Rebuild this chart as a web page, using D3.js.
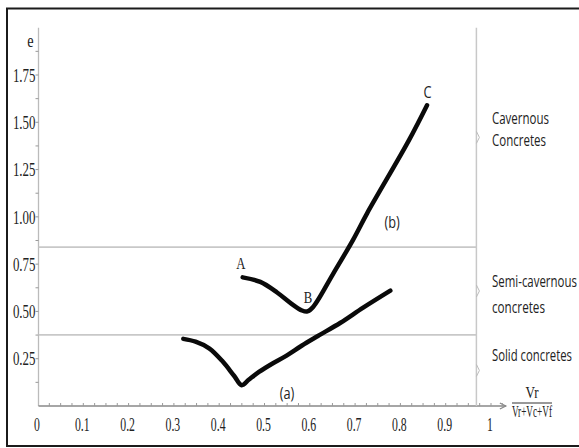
<!DOCTYPE html>
<html><head><meta charset="utf-8">
<script src="https://cdn.jsdelivr.net/npm/d3@7"></script>
<style>
html,body{margin:0;padding:0;background:#fff;}
svg{display:block;}
.serif{font-family:"Liberation Serif","DejaVu Serif",serif;fill:#222;}
.sans{font-family:"Open Sans","Liberation Sans",sans-serif;fill:#222;}
</style></head>
<body>
<svg id="chart" width="579" height="448"></svg>
<script>
// ---- data ----
const xTickValues = [0,0.1,0.2,0.3,0.4,0.5,0.6,0.7,0.8,0.9,1];
const xTickLabels = ["0","0.1","0.2","0.3","0.4","0.5","0.6","0.7","0.8","0.9","1"];
const yTickValues = [0.25,0.5,0.75,1.0,1.25,1.5,1.75];
const yTickLabels = ["0.25","0.50","0.75","1.00","1.25","1.50","1.75"];
// curve (a): lower curve
const curveAx = [0.323,0.35,0.38,0.41,0.435,0.452,0.468,0.49,0.52,0.55,0.585,0.62,0.67,0.72,0.78];
const curveAy = [0.355,0.34,0.305,0.235,0.16,0.11,0.14,0.18,0.225,0.265,0.32,0.37,0.44,0.52,0.61];
// curve (b): A -> B -> C
const curveBx = [0.454,0.493,0.53,0.562,0.585,0.597,0.61,0.654,0.698,0.729,0.82,0.861];
const curveBy = [0.68,0.656,0.60,0.54,0.505,0.50,0.525,0.70,0.88,1.02,1.40,1.59];
// zone boundaries (e) and labels
const zoneBounds = [0.376, 0.84];
const zoneLabels = [["Cavernous","Concretes"],["Semi-cavernous","concretes"],["Solid concretes"]];
const pointLabels = ["A","B","C"];
const pointLabelX = [0.45,0.598,0.862];
const pointLabelY = [0.757,0.577,1.66];
const curveLabels = ["(a)","(b)"];
const curveLabelX = [0.552,0.784];
const curveLabelY = [0.07,0.97];
const yAxisTitle = "e";
const xAxisNum = "Vr", xAxisDen = "Vr+Vc+Vf";
const zoneLineX = 0.97;

// ---- drawing ----
const svg = d3.select("#chart");
const x = d3.scaleLinear().domain([0,1]).range([37,490]);
const y = d3.scaleLinear().domain([0,1.75]).range([406,75]);

// text drawn at an anchor point, condensed horizontally by factor k (or to width w)
function ctext(parent, tx, ty, str, opt){
  const g = parent.append("g");
  const t = g.append("text").attr("class",opt.cls).attr("x",0).attr("y",0)
    .attr("dy",opt.dy||null).attr("text-anchor",opt.anchor||"start")
    .attr("font-size",opt.size).text(str);
  let k = opt.k||1;
  if (opt.w){ k = opt.w / t.node().getComputedTextLength(); }
  g.attr("transform",`translate(${tx},${ty}) scale(${k},1)`);
  return g;
}

// frame
svg.append("rect").attr("x",7).attr("y",8.5).attr("width",620).attr("height",437.5)
  .attr("fill","none").attr("stroke","#1b1b1b").attr("stroke-width",2);

const yAxisX = x(0)+1.5;
// y axis
svg.append("line").attr("x1",yAxisX).attr("x2",yAxisX).attr("y1",y(0)).attr("y2",y(2.0))
  .attr("stroke","#bbb").attr("stroke-width",1.3);
const yMinor = d3.range(1,16).map(i=>i*0.125);
svg.append("g").selectAll("line").data(yMinor).join("line")
  .attr("x1",yAxisX-3).attr("x2",yAxisX).attr("y1",d=>y(d)).attr("y2",d=>y(d))
  .attr("stroke","#999").attr("stroke-width",1);
const ylG = svg.append("g");
yTickValues.forEach((v,i)=>ctext(ylG, yAxisX-3, y(v), yTickLabels[i],
  {cls:"serif", dy:"0.35em", anchor:"end", size:19, k:0.68}));
ctext(svg, yAxisX-5, y(1.93), yAxisTitle, {cls:"serif", dy:"0.33em", anchor:"end", size:19, k:0.75});

// x axis with arrow
const xEnd = x(1.035);
svg.append("line").attr("x1",yAxisX).attr("x2",xEnd).attr("y1",y(0)).attr("y2",y(0))
  .attr("stroke","#888").attr("stroke-width",1.3);
svg.append("path").attr("d",`M${xEnd-6},${y(0)-3}L${xEnd},${y(0)}L${xEnd-6},${y(0)+3}`)
  .attr("fill","none").attr("stroke","#888").attr("stroke-width",1.2);
const xMinor = d3.range(1,42).map(i=>i*0.025);
svg.append("g").selectAll("line").data(xMinor).join("line")
  .attr("x1",d=>x(d)+1).attr("x2",d=>x(d)+1).attr("y1",y(0)).attr("y2",y(0)-3)
  .attr("stroke","#999").attr("stroke-width",1);
const xlG = svg.append("g");
xTickValues.forEach((v,i)=>ctext(xlG, x(v), 431, xTickLabels[i],
  {cls:"serif", anchor:"middle", size:19, k:0.62}));
// x axis title fraction
const fx = 532;
ctext(svg, fx, 398, xAxisNum, {cls:"serif", anchor:"middle", size:16, w:13});
svg.append("line").attr("x1",fx-20).attr("x2",fx+20).attr("y1",403).attr("y2",403)
  .attr("stroke","#333").attr("stroke-width",1);
ctext(svg, fx, 417, xAxisDen, {cls:"serif", anchor:"middle", size:16, w:40});

// zone lines
svg.append("g").selectAll("line").data(zoneBounds).join("line")
  .attr("x1",yAxisX).attr("x2",x(zoneLineX)).attr("y1",d=>y(d)).attr("y2",d=>y(d))
  .attr("stroke","#c8c8c8").attr("stroke-width",1.8);
svg.append("line").attr("x1",x(zoneLineX)).attr("x2",x(zoneLineX)).attr("y1",y(0)).attr("y2",y(2.0))
  .attr("stroke","#c8c8c8").attr("stroke-width",1.5);
// braces
const zoneEdges = [2.0, zoneBounds[1], zoneBounds[0], 0];
const braceMid = [0,1,2].map(i=>(zoneEdges[i]+zoneEdges[i+1])/2);
svg.append("g").selectAll("path").data(braceMid).join("path")
  .attr("d",d=>{const bx=x(zoneLineX), by=y(d);return `M${bx},${by-6}L${bx+3},${by}L${bx},${by+6}`;})
  .attr("fill","none").attr("stroke","#bbb").attr("stroke-width",1);
// zone labels
const zoneBaselines = [[124,146],[287,313],[361]];
const zoneWidths = [[57,54],[85,53],[80]];
zoneLabels.forEach((lines,i)=>{
  lines.forEach((t,j)=>{
    ctext(svg, 492, zoneBaselines[i][j], t, {cls:"sans", size:17, w:zoneWidths[i][j]});
  });
});

// curves
const line = d3.line().x(d=>x(d[0])).y(d=>y(d[1])).curve(d3.curveCatmullRom.alpha(0.5));
const dataA = curveAx.map((v,i)=>[v,curveAy[i]]);
const dataB = curveBx.map((v,i)=>[v,curveBy[i]]);
[dataA,dataB].forEach(dd=>{
  svg.append("path").datum(dd).attr("d",line).attr("fill","none")
    .attr("stroke","#0a0a0a").attr("stroke-width",4.5)
    .attr("stroke-linecap","round").attr("stroke-linejoin","round");
});
// point labels
pointLabels.forEach((t,i)=>{
  ctext(svg, x(pointLabelX[i]), y(pointLabelY[i]), t,
    {cls:i<2?"serif":"sans", dy:"0.35em", anchor:"middle", size:17, k:0.75});
});
curveLabels.forEach((t,i)=>{
  ctext(svg, x(curveLabelX[i]), y(curveLabelY[i]), t,
    {cls:"sans", dy:"0.35em", anchor:"middle", size:17, k:0.75});
});
</script>
</body></html>
